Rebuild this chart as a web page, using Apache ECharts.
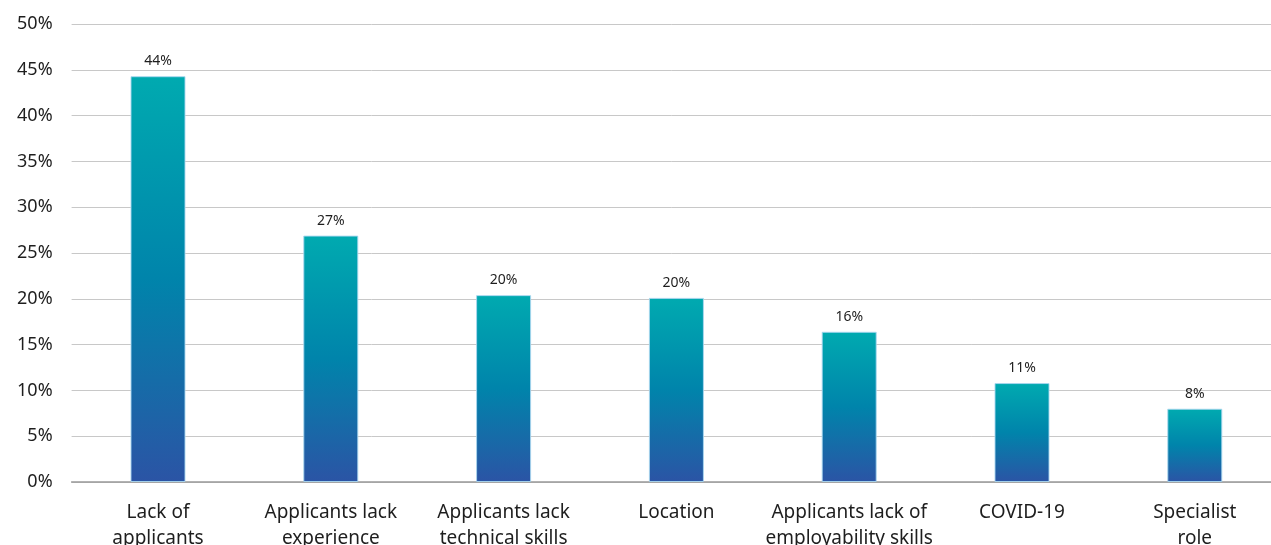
<!DOCTYPE html>
<html>
<head>
<meta charset="utf-8">
<script src="https://cdn.jsdelivr.net/npm/echarts@6/dist/echarts.min.js"></script>
<style>html,body{margin:0;padding:0;background:#fff;}#c{width:1271px;height:545px;}</style>
</head>
<body>
<div id="c"></div>
<script>
var categories = ["Lack of\napplicants", "Applicants lack\nexperience", "Applicants lack\ntechnical skills", "Location", "Applicants lack of\nemployability skills", "COVID-19", "Specialist\nrole"];
var values = [44.3, 26.9, 20.4, 20.1, 16.4, 10.8, 8.0];
var yTicks = [0, 5, 10, 15, 20, 25, 30, 35, 40, 45, 50];

var chart = echarts.init(document.getElementById('c'));
var font = '"Noto Sans", sans-serif';
chart.setOption({
  animation: false,
  grid: { left: 71.6, top: 24, width: 1209.6, height: 458, outerBoundsMode: 'none', containLabel: false },
  xAxis: {
    type: 'category',
    data: categories,
    axisLine: { lineStyle: { color: '#999', width: 1.5 } },
    axisTick: { show: false },
    axisLabel: { color: '#1e1e1e', fontSize: 19, fontFamily: font, lineHeight: 26, margin: 18, interval: 0 }
  },
  yAxis: {
    type: 'value',
    min: yTicks[0], max: yTicks[yTicks.length - 1], interval: 5,
    axisLine: { show: false },
    axisTick: { show: false },
    splitLine: { lineStyle: { color: '#c8c8c8', width: 1 } },
    axisLabel: { color: '#1e1e1e', fontSize: 18, fontFamily: font, margin: 19, formatter: function (v) { return v + '%'; } }
  },
  series: [{
    type: 'bar',
    data: values,
    barWidth: 55,
    itemStyle: {
      borderColor: 'rgba(170,215,240,0.9)',
      borderWidth: 1,
      color: new echarts.graphic.LinearGradient(0, 0, 0, 1, [
        { offset: 0, color: '#00aab0' },
        { offset: 0.5, color: '#0084ab' },
        { offset: 1, color: '#2b54a5' }
      ])
    },
    label: {
      show: true, position: 'top', distance: 8, color: '#1e1e1e', fontSize: 14, fontFamily: font,
      formatter: function (p) { return Math.round(p.value) + '%'; }
    }
  }]
});
</script>
</body>
</html>
